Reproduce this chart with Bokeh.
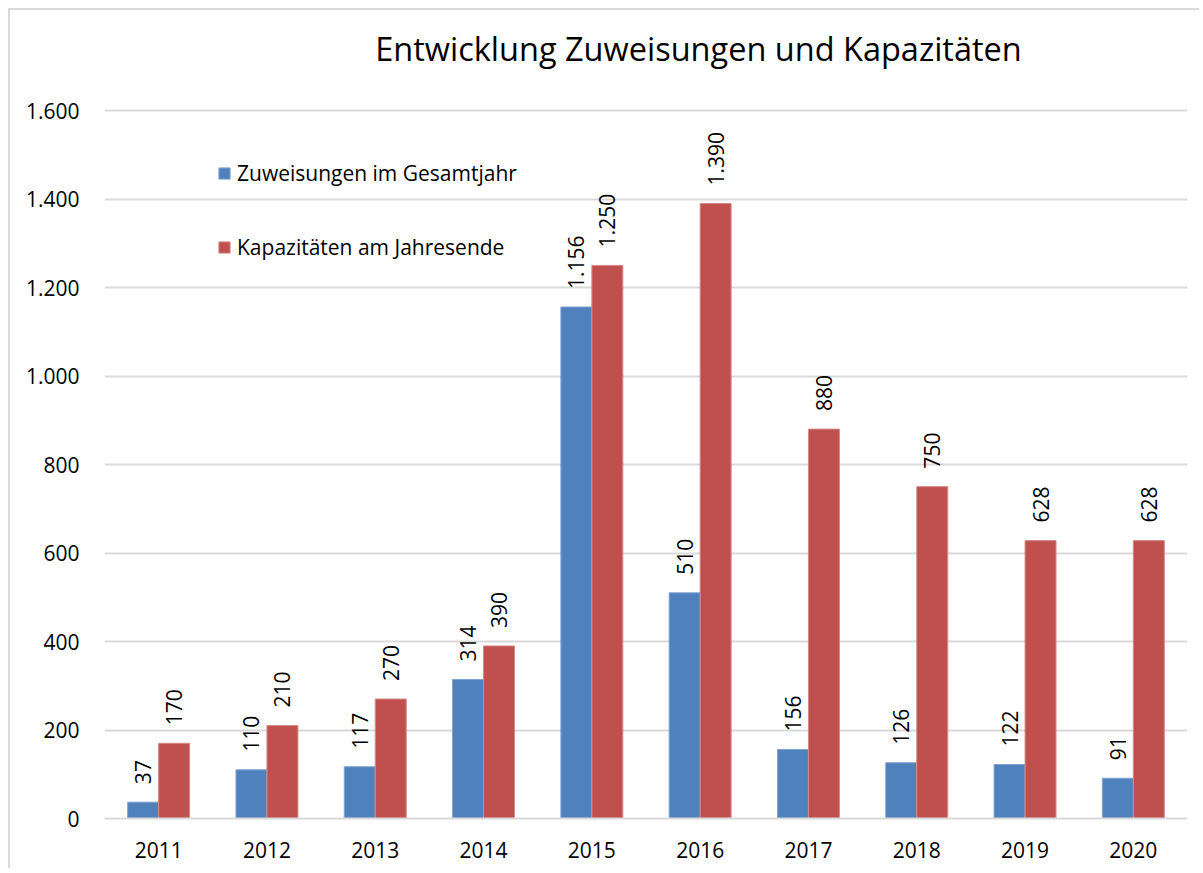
from bokeh.plotting import figure
from bokeh.models import ColumnDataSource, Legend, LegendItem, FixedTicker, FactorRange, Label
from bokeh.transform import dodge
from bokeh.core.properties import value
from bokeh.embed import file_html
from bokeh.resources import INLINE
import math

years = ["2011", "2012", "2013", "2014", "2015", "2016", "2017", "2018", "2019", "2020"]
zuweisungen = [37, 110, 117, 314, 1156, 510, 156, 126, 122, 91]
kapazitaeten = [170, 210, 270, 390, 1250, 1390, 880, 750, 628, 628]
y_ticks = [0, 200, 400, 600, 800, 1000, 1200, 1400, 1600]
y_tick_labels = ["0", "200", "400", "600", "800", "1.000", "1.200", "1.400", "1.600"]
series_names = ["Zuweisungen im Gesamtjahr", "Kapazitäten am Jahresende"]
title_text = "Entwicklung Zuweisungen und Kapazitäten"

BLUE = "#4F81BD"
RED = "#C0504D"
GRID = "#d9d9d9"
FONT = "Open Sans"


def de_fmt(v):
    return f"{v:,}".replace(",", ".")


src = ColumnDataSource(dict(
    year=years,
    z=zuweisungen,
    k=kapazitaeten,
    zl=[de_fmt(v) for v in zuweisungen],
    kl=[de_fmt(v) for v in kapazitaeten],
))

# the plot area extends above the last tick so that the title can sit inside it
Y_TOP = 1826

p = figure(
    x_range=FactorRange(*years, range_padding=0),
    y_range=(0, Y_TOP),
    width=1191, height=860,
    output_backend="svg", toolbar_location=None,
    min_border_left=94, min_border_right=14, min_border_top=0, min_border_bottom=52,
)
p.styles = {"border-left": f"2px solid {GRID}", "border-top": f"2px solid {GRID}",
            "margin-left": "8px", "margin-top": "8px"}
p.outline_line_color = None
p.background_fill_color = "white"
p.border_fill_color = "white"

title = Label(x=2.5, y=1740, text=title_text,
              text_font=FONT, text_font_size="32.5px", text_color="#000000",
              text_align="left", text_baseline="middle")
p.add_layout(title)

w = 0.286
r1 = p.vbar(x=dodge("year", -0.143, range=p.x_range), top="z", width=w, source=src,
            fill_color=BLUE, line_color="#7fa3d0", line_width=1)
r2 = p.vbar(x=dodge("year", 0.143, range=p.x_range), top="k", width=w, source=src,
            fill_color=RED, line_color="#d58a88", line_width=1)

p.text(x=dodge("year", -0.143, range=p.x_range), y="z", text="zl", source=src,
       angle=math.pi / 2, text_align="left", text_baseline="middle",
       y_offset=-18, text_font=value(FONT), text_font_size="21px", text_color="#000000")
p.text(x=dodge("year", 0.143, range=p.x_range), y="k", text="kl", source=src,
       angle=math.pi / 2, text_align="left", text_baseline="middle",
       y_offset=-18, text_font=value(FONT), text_font_size="21px", text_color="#000000")

# axes
p.yaxis.ticker = FixedTicker(ticks=y_ticks)
p.yaxis.major_label_overrides = {t: l for t, l in zip(y_ticks, y_tick_labels)}
p.yaxis.axis_line_color = None
p.yaxis.major_tick_line_color = None
p.yaxis.minor_tick_line_color = None
p.yaxis.major_label_standoff = 19
p.yaxis.major_label_text_font = FONT
p.yaxis.major_label_text_font_size = "21px"
p.yaxis.major_label_text_color = "#000000"

p.xaxis.axis_line_color = GRID
p.xaxis.axis_line_width = 2
p.xaxis.major_tick_line_color = None
p.xaxis.minor_tick_line_color = None
p.xaxis.major_label_standoff = 17
p.xaxis.major_label_text_font = FONT
p.xaxis.major_label_text_font_size = "21px"
p.xaxis.major_label_text_color = "#000000"

p.xgrid.grid_line_color = None
p.ygrid.grid_line_color = GRID
p.ygrid.grid_line_width = 2

legend = Legend(
    items=[LegendItem(label=series_names[0], renderers=[r1]),
           LegendItem(label=series_names[1], renderers=[r2])],
    location=(113, 557),
    orientation="vertical",
    padding=0, margin=0, spacing=46,
    glyph_width=14, glyph_height=14, label_standoff=6,
    label_text_font=FONT, label_text_font_size="21px", label_text_color="#000000",
    border_line_color=None, background_fill_alpha=0,
)
p.add_layout(legend)

open("out.html", "w").write(file_html(p, INLINE))
